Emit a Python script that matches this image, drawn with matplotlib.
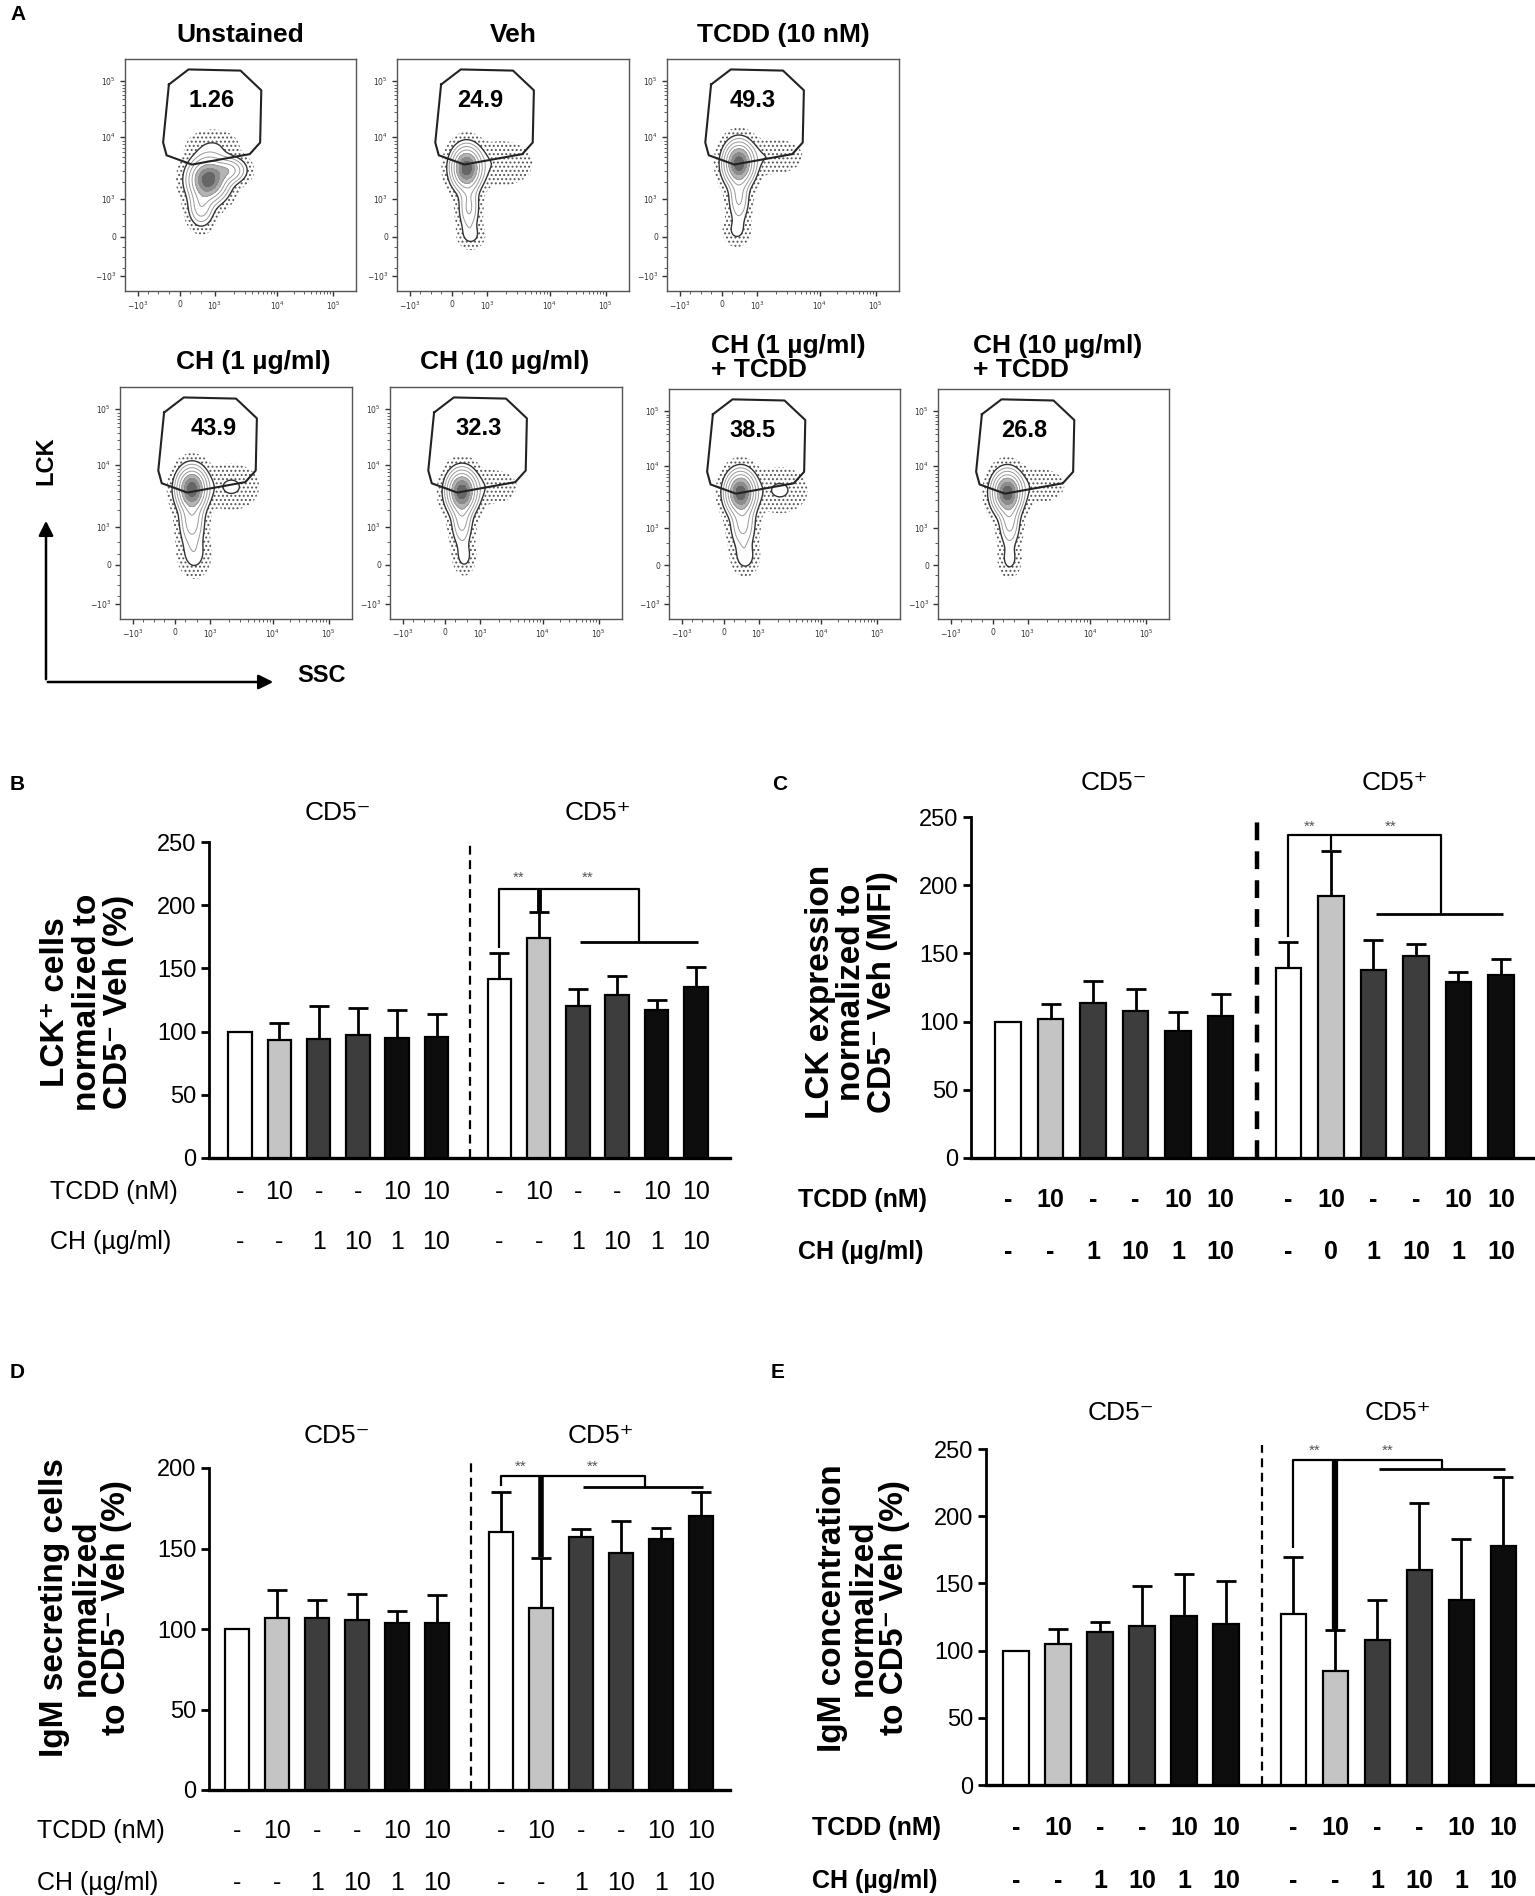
import numpy as np
import matplotlib
matplotlib.use('Agg')
import matplotlib.pyplot as plt
from matplotlib.transforms import blended_transform_factory

W, H = 1535, 1896
SANS = ['Liberation Sans', 'DejaVu Sans']
plt.rcParams['hatch.color'] = '#555555'
plt.rcParams['hatch.linewidth'] = 0.9

#### Panel A: flow plots ####
flow_titles = ['Unstained', 'Veh', 'TCDD (10 nM)', 'CH (1 µg/ml)', 'CH (10 µg/ml)',
               'CH (1 µg/ml)\n+ TCDD', 'CH (10 µg/ml)\n+ TCDD']
flow_pcts = ['1.26', '24.9', '49.3', '43.9', '32.3', '38.5', '26.8']
flow_pct_x = [0.376, 0.357, 0.371, 0.405, 0.38, 0.362, 0.374]

# gate outline (fraction of the plot box)
gate_x = [0.19, 0.275, 0.50, 0.59, 0.585, 0.54, 0.29, 0.18, 0.165, 0.19]
gate_y = [0.89, 0.955, 0.95, 0.865, 0.64, 0.59, 0.545, 0.585, 0.64, 0.89]

# cell population clusters: (cx, cy, sx, sy, weight)
flow_blobs = [
    [(0.36, 0.48, 0.045, 0.05, 1.0), (0.45, 0.52, 0.04, 0.03, 0.35),
     (0.33, 0.36, 0.03, 0.045, 0.25), (0.38, 0.62, 0.06, 0.04, 0.05)],
    [(0.30, 0.53, 0.035, 0.05, 1.0), (0.31, 0.36, 0.025, 0.06, 0.2),
     (0.32, 0.24, 0.03, 0.03, 0.06), (0.45, 0.55, 0.07, 0.05, 0.05)],
    [(0.31, 0.55, 0.035, 0.05, 1.0), (0.31, 0.40, 0.025, 0.06, 0.2),
     (0.30, 0.26, 0.03, 0.035, 0.06), (0.45, 0.58, 0.07, 0.04, 0.05)],
    [(0.31, 0.56, 0.035, 0.05, 1.0), (0.31, 0.42, 0.03, 0.06, 0.25),
     (0.32, 0.28, 0.035, 0.05, 0.08), (0.48, 0.57, 0.06, 0.05, 0.06)],
    [(0.31, 0.55, 0.035, 0.05, 1.0), (0.31, 0.42, 0.025, 0.06, 0.22),
     (0.32, 0.27, 0.025, 0.04, 0.07), (0.44, 0.57, 0.06, 0.04, 0.04)],
    [(0.31, 0.55, 0.035, 0.05, 1.0), (0.32, 0.41, 0.03, 0.06, 0.22),
     (0.33, 0.27, 0.03, 0.04, 0.08), (0.48, 0.56, 0.06, 0.05, 0.06)],
    [(0.30, 0.55, 0.035, 0.05, 1.0), (0.31, 0.42, 0.025, 0.06, 0.22),
     (0.31, 0.26, 0.025, 0.04, 0.07), (0.44, 0.58, 0.06, 0.04, 0.04)],
]

flow_xt = [0.056, 0.238, 0.389, 0.658, 0.9]
flow_yt = [0.065, 0.233, 0.397, 0.664, 0.905]
flow_tl = [r'$-10^3$', '0', r'$10^3$', r'$10^4$', r'$10^5$']

#### Panels B-E: bar charts ####
tcdd_row = ['-', '10', '-', '-', '10', '10'] * 2
ch_row = ['-', '-', '1', '10', '1', '10'] * 2
ch_row_c = ['-', '-', '1', '10', '1', '10', '-', '0', '1', '10', '1', '10']

b_mean = [100, 93, 94, 97, 95, 96, 142, 174, 120, 129, 117, 135]
b_err = [0, 14, 26, 22, 22, 18, 20, 21, 14, 15, 8, 16]

c_mean = [100, 102, 114, 108, 93, 104, 139, 192, 138, 148, 129, 134]
c_err = [0, 11, 16, 16, 14, 16, 19, 33, 22, 9, 7, 12]

d_mean = [100, 107, 107, 105.5, 104, 104, 160, 113, 157, 147, 156, 170]
d_err = [0, 17, 11, 16, 7, 17, 25, 31, 5, 20, 7, 15]

e_mean = [100, 105, 114, 118, 126, 120, 127, 85, 108, 160, 138, 178]
e_err = [0, 11, 7, 30, 31, 32, 43, 30, 30, 50, 45, 51]

bar_colors = ['white', '#c4c4c4', '#3d3d3d', '#3d3d3d', '#0d0d0d', '#0d0d0d'] * 2

fig = plt.figure(figsize=(W / 100, H / 100), dpi=100)


def px_axes(x0, y0, x1, y1):
    return fig.add_axes([x0 / W, 1 - y1 / H, (x1 - x0) / W, (y1 - y0) / H])


def ftext(x, y, s, **kw):
    kw.setdefault('family', SANS)
    return fig.text(x / W, 1 - y / H, s, **kw)


# panel letters
for letter, (lx, ly) in zip('ABCDE', [(10, 15), (10, 785), (772, 785), (10, 1372), (771, 1372)]):
    ftext(lx, ly, letter, fontsize=15, weight='bold', ha='left', va='center')

flow_boxes = [(125, 59, 356, 291), (397, 59, 629, 291), (667, 59, 899, 291),
              (120, 387, 352, 619), (390, 387, 622, 619), (669, 389, 900, 619), (938, 389, 1169, 619)]
title_pos = [(240, 35, 'center'), (513, 35, 'center'), (783, 35, 'center'),
             (253, 362, 'center'), (505, 362, 'center'), (711, 358, 'left'), (973, 358, 'left')]

grid = np.linspace(0, 1, 300)
GX, GY = np.meshgrid(grid, grid)
line_levels = [0.1, 0.18, 0.3, 0.45]
fill_levels = [0.45, 0.65, 0.85, 1.01]
fill_colors = ['#b4b4b4', '#8c8c8c', '#666666']

minor_ticks = []
for a, b in [(0.389, 0.658), (0.658, 0.9)]:
    minor_ticks += list(a + np.log10(np.arange(2, 10)) * (b - a))
minor_ticks += [0.10, 0.145, 0.19, 0.28, 0.33]

for i in range(7):
    x0, y0, x1, y1 = flow_boxes[i]
    ax = px_axes(x0, y0, x1, y1)
    ax.set_xlim(0, 1)
    ax.set_ylim(0, 1)
    Z = np.zeros_like(GX)
    for cx, cy, sx, sy, w in flow_blobs[i]:
        Z += w * np.exp(-((GX - cx) ** 2 / (2 * sx ** 2) + (GY - cy) ** 2 / (2 * sy ** 2)))
    Z /= Z.max()
    # sparse events shown as a dotted halo
    ax.contourf(GX, GY, Z, levels=[0.008, 0.05], colors='none', hatches=['....'])
    ax.contour(GX, GY, Z, levels=[0.05], colors='#333333', linewidths=1.0)
    ax.contour(GX, GY, Z, levels=line_levels, colors='#9a9a9a', linewidths=0.7)
    ax.contourf(GX, GY, Z, levels=fill_levels, colors=fill_colors)
    ax.plot(gate_x, gate_y, color='#222222', lw=1.5)
    ax.text(flow_pct_x[i], 0.82, flow_pcts[i], fontsize=17, weight='bold', family=SANS,
            ha='center', va='center')
    ax.set_xticks(flow_xt)
    ax.set_xticklabels(flow_tl)
    ax.set_yticks(flow_yt)
    ax.set_yticklabels(flow_tl)
    ax.set_xticks(minor_ticks, minor=True)
    ax.set_yticks(minor_ticks, minor=True)
    ax.tick_params(which='major', direction='out', length=3.5, width=1.0, pad=3,
                   labelsize=5.5, colors='#333333')
    ax.tick_params(which='minor', direction='out', length=2, width=0.6, colors='#444444')
    for sp in ax.spines.values():
        sp.set_linewidth(1.0)
        sp.set_color('#555555')
    tx, ty, ha = title_pos[i]
    ftext(tx, ty, flow_titles[i], fontsize=19, weight='bold', ha=ha, va='center',
          linespacing=1.05)

# LCK / SSC axis arrows
fig.add_artist(matplotlib.patches.FancyArrowPatch(
    (46 / W, 1 - 682 / H), (46 / W, 1 - 518 / H), transform=fig.transFigure,
    arrowstyle='-|>', mutation_scale=22, lw=1.8, color='black'))
fig.add_artist(matplotlib.patches.FancyArrowPatch(
    (45 / W, 1 - 682 / H), (276 / W, 1 - 682 / H), transform=fig.transFigure,
    arrowstyle='-|>', mutation_scale=22, lw=1.8, color='black'))
ftext(46, 461, 'LCK', fontsize=17, weight='bold', rotation=90, ha='center', va='center')
ftext(322, 675, 'SSC', fontsize=17, weight='bold', ha='center', va='center')

#### bar panels ####
xpos = np.r_[np.arange(6), 6.6 + np.arange(6)]

panels = [
    dict(rect=(209, 842, 730, 1158), bar0=240, step=39.3, ymax=250, mean=b_mean, err=b_err,
         ch=ch_row, row_x=50, row_y=(1192, 1242), title_y=813, ylab_xy=(87, 1002),
         ylab='LCK⁺ cells\nnormalized to\nCD5⁻ Veh (%)', dash_top=251, dash_lw=1.6,
         top=213, left_bottom=166, right_x=10.15, low_y=171, thick_from=195, thick_lw=3.5,
         star_y=222, star_x=(7.1, 8.85), row_w='normal'),
    dict(rect=(971, 817, 1533, 1158), bar0=1008, step=42.5, ymax=250, mean=c_mean, err=c_err,
         ch=ch_row_c, row_x=798, row_y=(1200, 1252), title_y=783, ylab_xy=(852, 992),
         ylab='LCK expression\nnormalized to\nCD5⁻ Veh (MFI)', dash_top=253, dash_lw=3.2,
         top=237, left_bottom=162, right_x=10.2, low_y=179, thick_from=226, thick_lw=1.6,
         star_y=243, star_x=(7.1, 9.0), row_w='bold'),
    dict(rect=(209, 1468, 730, 1790), bar0=237, step=40.0, ymax=200, mean=d_mean, err=d_err,
         ch=ch_row, row_x=37, row_y=(1831, 1883), title_y=1436, ylab_xy=(86, 1608),
         ylab='IgM secreting cells\nnormalized\nto CD5⁻ Veh (%)', dash_top=203, dash_lw=1.6,
         top=195, left_bottom=189, right_x=10.2, low_y=188, thick_from=144.6, thick_lw=4.0,
         star_y=201, star_x=(7.1, 8.9), row_w='normal'),
    dict(rect=(986, 1449, 1533, 1785), bar0=1016, step=42.0, ymax=250, mean=e_mean, err=e_err,
         ch=ch_row, row_x=812, row_y=(1828, 1881), title_y=1413, ylab_xy=(863, 1608),
         ylab='IgM concentration\nnormalized\nto CD5⁻ Veh (%)', dash_top=253, dash_lw=1.6,
         top=242, left_bottom=176, right_x=10.15, low_y=235, thick_from=115.6, thick_lw=4.5,
         star_y=249, star_x=(7.1, 8.85), row_w='bold'),
]

for p in panels:
    x0, y0, x1, y1 = p['rect']
    ax = px_axes(x0, y0, x1, y1)
    ax.set_xlim((x0 - p['bar0']) / p['step'], (x1 - p['bar0']) / p['step'])
    ax.set_ylim(0, p['ymax'])
    mean = np.array(p['mean'], float)
    err = np.array(p['err'], float)
    ax.bar(xpos, mean, width=0.6, color=bar_colors, edgecolor='black', linewidth=1.6, zorder=3)
    m = err > 0
    ax.errorbar(xpos[m], mean[m], yerr=[np.zeros(m.sum()), err[m]], fmt='none', ecolor='black',
                elinewidth=2.0, capsize=7, capthick=2.0, zorder=2)
    for s in ['top', 'right']:
        ax.spines[s].set_visible(False)
    ax.spines['left'].set_linewidth(2.0)
    ax.spines['bottom'].set_linewidth(2.4)
    ax.set_xticks([])
    ax.set_yticks(np.arange(0, p['ymax'] + 1, 50))
    ax.tick_params(axis='y', direction='out', length=6, width=2.0, labelsize=17, pad=3)
    for lab in ax.get_yticklabels():
        lab.set_family(SANS)
    ax.patch.set_alpha(0)

    # vertical dashed divider
    ax.plot([5.85, 5.85], [0, p['dash_top']], color='black', lw=p['dash_lw'],
            ls=(0, (4, 2.5)), clip_on=False, zorder=4)

    # significance brackets
    kw = dict(color='black', lw=1.6, clip_on=False, zorder=5, solid_capstyle='butt')
    t = p['top']
    ax.plot([6.6, 6.6, p['right_x'], p['right_x']], [p['left_bottom'], t, t, p['low_y']], **kw)
    ax.plot([8.65, 11.65], [p['low_y'], p['low_y']], **dict(kw, lw=2.0))
    ax.plot([7.6, 7.6], [p['thick_from'], t], **dict(kw, lw=p['thick_lw']))
    for sx in p['star_x']:
        ax.text(sx, p['star_y'], '**', fontsize=11, color='#555555', ha='center', va='center',
                family=SANS)

    # group headers
    tr = blended_transform_factory(ax.transData, fig.transFigure)
    ax.text(2.5, 1 - p['title_y'] / H, 'CD5⁻', transform=tr, fontsize=19, ha='center',
            va='center', family=SANS)
    ax.text(9.1, 1 - p['title_y'] / H, 'CD5⁺', transform=tr, fontsize=19, ha='center',
            va='center', family=SANS)

    # treatment rows
    ry1, ry2 = p['row_y']
    ftext(p['row_x'], ry1, 'TCDD (nM)', fontsize=18, ha='left', va='center', weight=p['row_w'])
    ftext(p['row_x'], ry2, 'CH (µg/ml)', fontsize=18, ha='left', va='center', weight=p['row_w'])
    for xv, a, b in zip(xpos, tcdd_row, p['ch']):
        ax.text(xv, 1 - ry1 / H, a, transform=tr, fontsize=18, ha='center', va='center',
                family=SANS, weight=p['row_w'])
        ax.text(xv, 1 - ry2 / H, b, transform=tr, fontsize=18, ha='center', va='center',
                family=SANS, weight=p['row_w'])

    lx, ly = p['ylab_xy']
    ftext(lx, ly, p['ylab'], fontsize=24, weight='bold', rotation=90, ha='center', va='center',
          multialignment='center', linespacing=1.0)

fig.savefig('out.png', dpi=100)
